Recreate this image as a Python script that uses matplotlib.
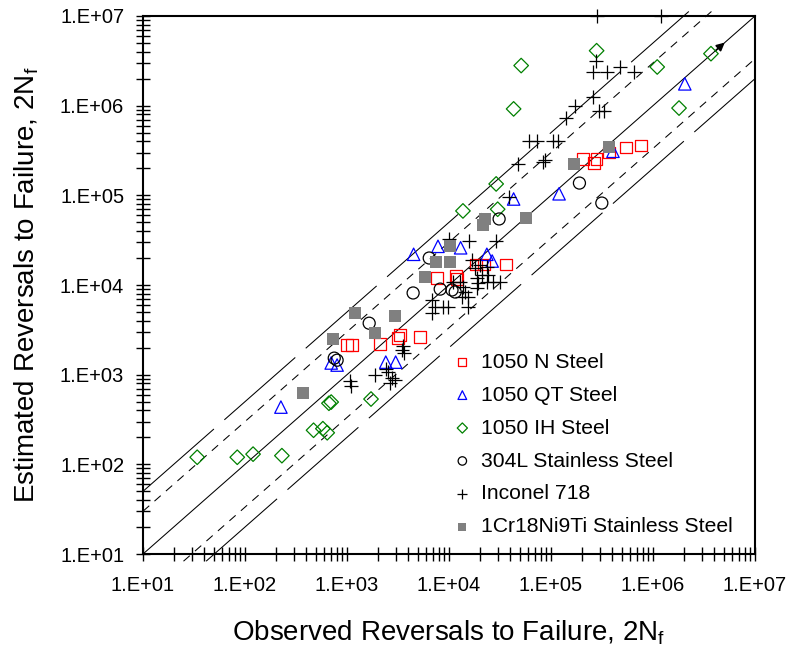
import numpy as np
import matplotlib
matplotlib.use("Agg")
import matplotlib.pyplot as plt
import matplotlib.ticker as ticker

plt.rcParams['font.family'] = ['Liberation Sans', 'DejaVu Sans']
plt.rcParams['mathtext.fontset'] = 'custom'
plt.rcParams['mathtext.rm'] = 'Liberation Sans'
plt.rcParams['lines.scale_dashes'] = False

# observed (x) / estimated (y) reversals to failure
n_obs = [1000, 1120, 2100, 3150, 3300, 5200, 7600, 1.17e4, 1.2e4, 1.84e4, 2.2e4,
         3.6e4, 2.06e5, 2.65e5, 2.8e5, 3.7e5, 5.4e5, 7.6e5]
n_est = [2150, 2150, 2200, 2550, 2750, 2650, 1.2e4, 1.26e4, 1.17e4, 1.7e4, 1.7e4,
         1.7e4, 2.55e5, 2.3e5, 2.55e5, 3.0e5, 3.4e5, 3.6e5]

qt_obs = [225, 700, 800, 2400, 3000, 4500, 7800, 1.3e4, 2.35e4, 2.65e4, 4.3e4,
          1.2e5, 4.05e5, 2.05e6]
qt_est = [435, 1350, 1280, 1380, 1380, 2.2e4, 2.7e4, 2.6e4, 2.2e4, 1.85e4, 9.1e4,
          1.04e5, 3.1e5, 1.75e6]

ih_obs = [34, 84, 120, 230, 470, 580, 640, 665, 700, 1720, 1.37e4, 2.9e4, 3.0e4,
          4.3e4, 5.1e4, 2.8e5, 1.1e6, 1.8e6, 3.7e6]
ih_est = [120, 120, 130, 125, 240, 250, 225, 480, 495, 535, 6.7e4, 1.34e5, 7.0e4,
          9.2e5, 2.8e6, 4.1e6, 2.7e6, 9.4e5, 3.8e6]

ss304_obs = [750, 800, 1650, 4450, 6400, 8200, 1.07e4, 1.15e4, 3.1e4, 1.9e5, 3.15e5]
ss304_est = [1530, 1450, 3750, 8150, 2.0e4, 9000, 8800, 8350, 5.45e4, 1.37e5, 8.2e4]

in718_obs = [2.8e5, 1.2e6, 2.75e5, 2.6e5, 3.55e5, 4.75e5, 6.5e5, 2.6e5, 1.7e5,
             1.4e5, 2.95e5, 3.3e5, 6.1e4, 7.3e4, 1.05e5, 1.17e5, 4.75e4, 8.3e4,
             8.8e4, 3.9e4, 2.9e4, 1.57e4, 1.0e4,
             1.68e4, 1.8e4, 2.0e4, 2.1e4, 1.88e4, 2.4e4, 1.92e4, 2.36e4, 2.7e4,
             3.15e4, 1.88e4, 1.28e4, 1.37e4, 1.43e4, 1.53e4, 1.34e4, 7300, 8700,
             9800, 6800, 6800, 1.53e4, 2.36e4, 1.1e4,
             1070, 1100, 1900, 2400, 2500, 2750, 2950, 2650, 3450, 3550, 3600]
in718_est = [1e7, 1e7, 3.15e6, 2.4e6, 2.4e6, 2.7e6, 2.4e6, 1.25e6, 1.0e6,
             7.3e5, 8.7e5, 8.7e5, 4.0e5, 4.0e5, 4.0e5, 4.0e5, 2.25e5, 2.35e5,
             2.5e5, 9.6e4, 3.1e4, 3.1e4, 3.25e4,
             1.9e4, 1.55e4, 1.67e4, 1.29e4, 1.2e4, 1.29e4, 1.05e4, 1.08e4, 1.08e4,
             1.08e4, 9250, 1.08e4, 9500, 8350, 7350, 7350, 5700, 5700,
             5700, 6800, 4900, 5700, 1.6e4, 1.08e4,
             850, 750, 990, 1150, 1070, 920, 870, 810, 1880, 2100, 1750]

cr_obs = [370, 730, 1200, 1900, 2950, 5800, 7500, 1.02e4, 1.02e4, 2.15e4, 2.25e4,
          5.7e4, 1.68e5, 3.7e5]
cr_est = [620, 2500, 4900, 2900, 4500, 1.23e4, 1.8e4, 1.8e4, 2.7e4, 4.7e4, 5.4e4,
          5.6e4, 2.25e5, 3.45e5]

factors = [5, 3, 1, 1 / 3, 1 / 5]
tick_vals = [1e1, 1e2, 1e3, 1e4, 1e5, 1e6, 1e7]


def fmt(v, pos):
    return '1.E+%02d' % int(round(np.log10(v)))


def main():
    fig = plt.figure(figsize=(7.9, 6.47), dpi=100)
    ax = fig.add_axes([0.181, 0.1437, 0.7747, 0.8316])
    ax.set_xscale('log')
    ax.set_yscale('log')
    ax.set_xlim(1e1, 1e7)
    ax.set_ylim(1e1, 1e7)

    # 1:1, factor 3 and factor 5 bands
    for k in factors:
        x0 = max(1e1, 10 ** 0.92 / k)
        x1 = min(1e7, 10 ** 7.05 / k)
        xs = np.array([x0, x1])
        if k == 1:
            ax.plot(xs, xs * k, color='black', lw=0.75, clip_on=False, zorder=1)
        elif k in (3, 1 / 3):
            ax.plot(xs, xs * k, color='black', lw=0.75, dashes=(6, 5),
                    clip_on=False, zorder=1)
        else:
            ax.plot(xs, xs * k, color='black', lw=0.75, dashes=(68, 10),
                    clip_on=False, zorder=1)

    ax.annotate('', xy=(5.3e6, 5.3e6), xytext=(3.9e6, 3.9e6),
                arrowprops=dict(arrowstyle='-|>', color='black', lw=1.2,
                                mutation_scale=12))

    ax.scatter(n_obs, n_est, s=70, marker='s', facecolors='none',
               edgecolors='#FF0000', linewidths=0.9, label='1050 N Steel',
               zorder=3, clip_on=False)
    ax.scatter(qt_obs, qt_est, s=80, marker='^', facecolors='none',
               edgecolors='#0000FF', linewidths=0.9, label='1050 QT Steel',
               zorder=3, clip_on=False)
    ax.scatter(ih_obs, ih_est, s=55, marker='D', facecolors='none',
               edgecolors='#008000', linewidths=0.9, label='1050 IH Steel',
               zorder=3, clip_on=False)
    ax.scatter(ss304_obs, ss304_est, s=75, marker='o', facecolors='none',
               edgecolors='black', linewidths=0.9,
               label='304L Stainless Steel', zorder=3, clip_on=False)
    ax.scatter(in718_obs, in718_est, s=110, marker='+', color='black',
               linewidths=0.9, label='Inconel 718', zorder=3, clip_on=False)
    ax.scatter(cr_obs, cr_est, s=75, marker='s', color='#808080',
               linewidths=0, label='1Cr18Ni9Ti Stainless Steel', zorder=3,
               clip_on=False)

    for axis in (ax.xaxis, ax.yaxis):
        axis.set_major_locator(ticker.FixedLocator(tick_vals))
        axis.set_major_formatter(ticker.FuncFormatter(fmt))
        axis.set_minor_locator(ticker.LogLocator(base=10, subs=np.arange(2, 10)))
        axis.set_minor_formatter(ticker.NullFormatter())
    ax.tick_params(which='both', direction='inout', length=10, width=1,
                   top=False, right=False, labelsize=14.5)
    ax.tick_params(axis='x', which='major', pad=10.5)
    ax.tick_params(axis='y', which='major', pad=8.5)
    for sp in ax.spines.values():
        sp.set_linewidth(1.5)

    ax.set_xlabel('Observed Reversals to Failure, 2N$_\\mathrm{f}$',
                  fontsize=20, labelpad=17)
    ax.set_ylabel('Estimated Reversals to Failure, 2N$_\\mathrm{f}$',
                  fontsize=20, labelpad=14)

    ax.legend(loc='center left', bbox_to_anchor=(0.508, 0.2035),
              frameon=False, fontsize=15.2, markerscale=0.7,
              handlelength=0.8, handletextpad=0.5, labelspacing=0.66,
              borderpad=0, borderaxespad=0)

    fig.savefig('out.png', dpi=100)


if __name__ == "__main__":
    main()
